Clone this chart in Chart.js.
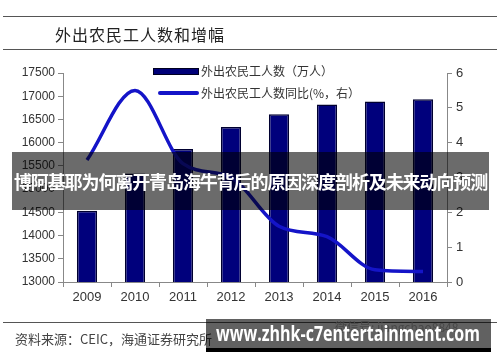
<!DOCTYPE html>
<html>
<head>
<meta charset="utf-8">
<script src="https://cdn.jsdelivr.net/npm/chart.js@4.4.0/dist/chart.umd.min.js"></script>
<style>
  body { margin: 0; background: #fff; width: 500px; height: 362px; overflow: hidden; position: relative; font-family: "Noto Sans CJK SC", sans-serif; }
  #wrap { position: absolute; left: 0; top: 0; width: 500px; height: 362px; }
  .rule { position: absolute; left: 3px; width: 494px; height: 1px; background: #555; }
  #title { position: absolute; left: 55px; top: 22px; font-size: 16px; letter-spacing: 1px; color: #222; }
  .leg { position: absolute; font-size: 12px; color: #333; line-height: 14px; }
  .sw { position: absolute; background: #000078; }
  #banner { position: absolute; left: 12px; top: 152px; width: 477px; height: 58px; background: rgba(0,0,0,0.58);
            color: #fff; font-weight: bold; font-size: 18px; letter-spacing: -1.1px; line-height: 58px; text-align: center; white-space: nowrap; }
  #source { position: absolute; left: 15px; top: 329px; font-size: 13px; color: #444; }
  #wx { position: absolute; left: 335px; top: 318px; font-size: 12px; color: #bbb; }
  #wm { position: absolute; left: 206px; top: 319px; width: 285px; height: 33px; background: rgba(0,0,0,0.62);
        border-bottom: 4px solid #000; box-sizing: border-box; }
  #wmt { position: absolute; left: 10px; top: 0; line-height: 29px; color: #fff; font-weight: bold; font-size: 21px;
         font-family: "Open Sans", "Noto Sans", sans-serif; white-space: nowrap; transform-origin: left center; }
</style>
</head>
<body>
<div id="wrap"><canvas id="c" width="500" height="362"></canvas></div>

<div class="rule" style="top:16px"></div>
<div id="title">外出农民工人数和增幅</div>
<div class="rule" style="top:49px"></div>

<div class="sw" style="left:153px;top:68px;width:46px;height:7px;border:1px solid #000020;box-sizing:border-box"></div>
<div class="leg" style="left:201px;top:64px">外出农民工人数（万人）</div>
<div class="sw" style="left:158px;top:91px;width:41px;height:4px;background:#1414c8;border-radius:2px"></div>
<div class="leg" style="left:201px;top:86px">外出农民工人数同比(%，右）</div>

<div id="banner">博阿基耶为何离开青岛海牛背后的原因深度剖析及未来动向预测</div>

<div class="rule" style="top:322px"></div>
<div id="source">资料来源：CEIC，海通证券研究所</div>
<div id="wx">微信号: jiangchao8848</div>
<div id="wm"><div id="wmt">www.zhhk-c7entertainment.com</div></div>

<script>
const years = ["2009", "2010", "2011", "2012", "2013", "2014", "2015", "2016"];
const workers = [14533, 15335, 15863, 16336, 16610, 16821, 16884, 16934];
const growth = [3.5, 5.5, 3.4, 3.0, 1.6, 1.3, 0.35, 0.3];

const ctx = document.getElementById("c").getContext("2d");

const chart = new Chart(ctx, {
  type: "bar",
  data: {
    labels: years,
    datasets: [{
      type: "line",
      label: "外出农民工人数同比(%，右）",
      data: growth,
      yAxisID: "y1",
      borderColor: "#1414c8",
      borderWidth: 3.5,
      pointRadius: 0,
      cubicInterpolationMode: "monotone",
      order: 1
    }, {
      label: "外出农民工人数（万人）",
      data: workers,
      yAxisID: "y",
      backgroundColor: "#00007c",
      borderColor: "#000030",
      borderWidth: 1.5,
      categoryPercentage: 1,
      barPercentage: 0.42,
      order: 2
    }]
  },
  options: {
    responsive: false,
    animation: false,
    layout: { padding: { top: 73, bottom: 0, left: 0, right: 0 } },
    plugins: { legend: { display: false }, tooltip: { enabled: false } },
    scales: {
      x: {
        afterFit: s => { s.height = 80; },
        grid: { drawOnChartArea: false, offset: true, tickLength: 5, color: "#888" },
        border: { color: "#888" },
        ticks: { color: "#333", font: { family: "Liberation Sans", size: 13 }, padding: 3 }
      },
      y: {
        position: "left",
        min: 13000, max: 17500,
        afterFit: s => { s.width = 63; },
        grid: { drawOnChartArea: false, tickLength: 5, color: "#888" },
        border: { color: "#888" },
        ticks: { stepSize: 500, color: "#333", font: { family: "Liberation Sans", size: 12 }, padding: 3,
                 callback: v => String(v) }
      },
      y1: {
        position: "right",
        min: 0, max: 6,
        afterFit: s => { s.width = 53; },
        grid: { drawOnChartArea: false, tickLength: 5, color: "#888" },
        border: { color: "#888" },
        ticks: { stepSize: 1, color: "#333", font: { family: "Liberation Sans", size: 13 }, padding: 4 }
      }
    }
  }
});

// fit watermark text to the width seen in the picture
const wmt = document.getElementById("wmt");
wmt.style.transform = "scaleX(" + (264 / wmt.scrollWidth) + ")";
</script>
</body>
</html>
